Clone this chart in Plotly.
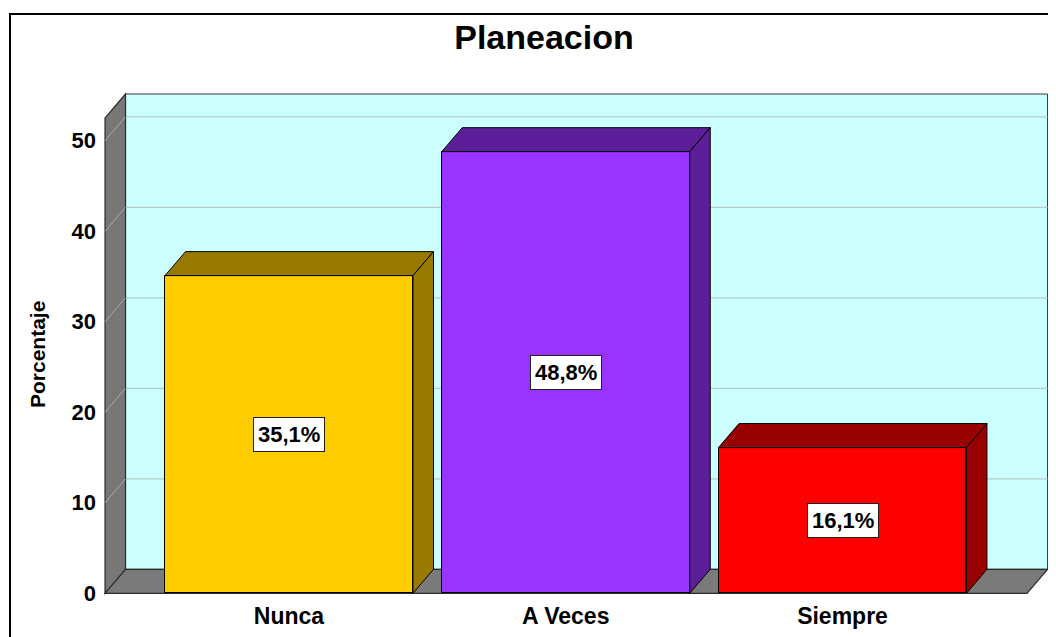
import plotly.graph_objects as go

# ---- data ----
categories = ["Nunca", "A Veces", "Siempre"]
percentages = [35.1, 48.8, 16.1]
tick_values = [0, 10, 20, 30, 40, 50]
front_colors = ["#FFCC00", "#9933FF", "#FF0000"]
shade_colors = ["#997A00", "#5C1F99", "#990000"]

# ---- geometry (in axis units) ----
W, H = 1056, 637
OFF = 8  # page body margin offset
ML, MR, MT, MB = 103 - OFF, 6 + OFF, 92 - OFF, 42 + OFF
x_range = [-0.6721, 2.7498]
y_range = [-0.19, 55.39]
bar_w = 0.896
dx, dy = 0.0741, 2.65          # depth offset
x_front_l, x_front_r = -0.6648, 2.6667
y_wall_top = 55.17

xs = list(range(len(categories)))
labels = [f"{v:.1f}".replace(".", ",") + "%" for v in percentages]

FONT = "Liberation Sans, Arial, sans-serif"

fig = go.Figure()

shapes = []
# back wall
shapes.append(dict(type="rect", xref="x", yref="y", layer="below",
                   x0=x_front_l + dx, x1=x_front_r + dx, y0=dy, y1=y_wall_top,
                   fillcolor="#CCFFFF", line=dict(color="#3A3A3A", width=1)))
# grid lines on back wall
for v in tick_values[1:]:
    shapes.append(dict(type="line", xref="x", yref="y", layer="below",
                       x0=x_front_l + dx, x1=x_front_r + dx, y0=v + dy, y1=v + dy,
                       line=dict(color="#B6CCCC", width=1.2)))
# left wall
shapes.append(dict(type="path", xref="x", yref="y", layer="below",
                   path=f"M{x_front_l},0 L{x_front_l},{y_wall_top-dy} L{x_front_l+dx},{y_wall_top} "
                        f"L{x_front_l+dx},{dy} Z",
                   fillcolor="#777777", line=dict(color="#2A2A2A", width=1.2)))
for v in tick_values:
    shapes.append(dict(type="line", xref="x", yref="y", layer="below",
                       x0=x_front_l, x1=x_front_l + dx, y0=v, y1=v + dy,
                       line=dict(color="#AAAAAA", width=1)))
# floor
shapes.append(dict(type="path", xref="x", yref="y", layer="below",
                   path=f"M{x_front_l},0 L{x_front_r},0 L{x_front_r+dx},{dy} L{x_front_l+dx},{dy} Z",
                   fillcolor="#7A7A7A", line=dict(color="#2A2A2A", width=1.2)))
# outer frame
pw = W - ML - MR
ph = H - MT - MB
shapes.append(dict(type="rect", xref="paper", yref="paper",
                   x0=(10 - OFF - ML) / pw, x1=(W + 20 - ML) / pw,
                   y0=-(MB + 20) / ph, y1=1 + (MT - (14 - OFF)) / ph,
                   line=dict(color="#000000", width=2), fillcolor="rgba(0,0,0,0)"))

# front faces
fig.add_trace(go.Bar(x=xs, y=percentages, width=bar_w,
                     marker=dict(color=front_colors, line=dict(color="#000000", width=1)),
                     hoverinfo="skip", showlegend=False))

# top and side faces
for xi, v, c in zip(xs, percentages, shade_colors):
    l, r = xi - bar_w / 2, xi + bar_w / 2
    fig.add_trace(go.Scatter(x=[l, r, r + dx, l + dx, l], y=[v, v, v + dy, v + dy, v],
                             mode="lines", fill="toself", fillcolor=c,
                             line=dict(color="#000000", width=1),
                             hoverinfo="skip", showlegend=False))
    fig.add_trace(go.Scatter(x=[r, r + dx, r + dx, r, r], y=[0, dy, v + dy, v, 0],
                             mode="lines", fill="toself", fillcolor=c,
                             line=dict(color="#000000", width=1),
                             hoverinfo="skip", showlegend=False))

annotations = []
for xi, v, t in zip(xs, percentages, labels):
    annotations.append(dict(x=xi, y=v / 2, xref="x", yref="y", text=t, showarrow=False,
                            xanchor="center", yanchor="middle",
                            font=dict(family=FONT, size=22, color="#000000", weight="bold"),
                            bgcolor="#FFFFFF", bordercolor="#222222", borderwidth=1, borderpad=4))
annotations.append(dict(x=(37 - OFF - ML) / pw, y=(H - MB - (355 - OFF)) / ph,
                        xref="paper", yref="paper", xanchor="center", yanchor="middle",
                        text="Porcentaje", textangle=-90, showarrow=False,
                        font=dict(family=FONT, size=21, color="#000000", weight="bold")))

fig.update_layout(
    width=W, height=H,
    margin=dict(l=ML, r=MR, t=MT, b=MB),
    paper_bgcolor="#FFFFFF", plot_bgcolor="#FFFFFF",
    title=dict(text="Planeacion", x=(544 - OFF) / W, xref="container", xanchor="center",
               y=1 - (37 - OFF) / H, yref="container", yanchor="middle",
               font=dict(family=FONT, size=34, color="#000000", weight="bold")),
    shapes=shapes, annotations=annotations,
    xaxis=dict(range=x_range, tickvals=xs, ticktext=categories, showgrid=False,
               zeroline=False, showline=False, ticks="", ticklabelstandoff=5,
               tickfont=dict(family=FONT, size=23, color="#000000", weight="bold")),
    yaxis=dict(range=y_range, tickvals=tick_values, showgrid=False, zeroline=False,
               showline=False, ticks="", ticklabelstandoff=6,
               tickfont=dict(family=FONT, size=22, color="#000000", weight="bold")),
    bargap=0,
)

fig.write_html("out.html")
